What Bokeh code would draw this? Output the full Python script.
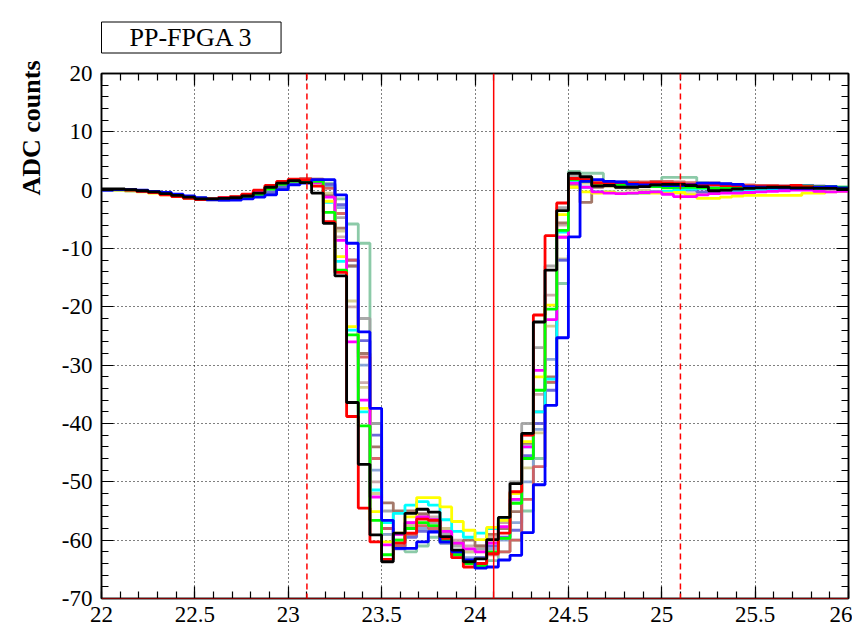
import numpy as np
from bokeh.plotting import figure
from bokeh.models import Span, Title, LinearAxis, FixedTicker, Range1d
from bokeh.embed import file_html
from bokeh.resources import INLINE

# ---------------- data ----------------
title_text = "PP-FPGA 3"
y_title = "ADC counts"
x_start = 22.0
bin_width = 0.0625
n_bins = 64

x_ticks = [22.0, 22.5, 23.0, 23.5, 24.0, 24.5, 25.0, 25.5, 26.0]
x_tick_labels = ["22", "22.5", "23", "23.5", "24", "24.5", "25", "25.5", "26"]
y_ticks = [-70, -60, -50, -40, -30, -20, -10, 0, 10, 20]
y_tick_labels = ["-70", "-60", "-50", "-40", "-30", "-20", "-10", "0", "10", "20"]

marker_lines = [23.1, 24.1, 25.1]
marker_styles = ["dashed", "solid", "dashed"]

black = [0.2, 0.2, 0.1, -0.1, -0.3, -0.6, -0.9, -1.2, -1.5, -1.5, -1.4, -1.3, -1.0, -0.5, 0.5, 1.2, 1.65, 1.3,
         -0.5, -5.7, -14.7, -36.4, -47.0, -59.1, -63.7, -58.8, -55.4, -54.7, -55.2, -59.4, -61.7, -63.7, -63.2, -59.9, -56.1, -50.3, -41.7, -22.6, -13.7, -3.5, 2.9, 2.3, 0.7,
         0.8, 0.5, 0.5, 0.6, 0.9, 1.0, 1.0, 0.8, 0.6, -0.1, 0.0, 0.2, 0.3, 0.4, 0.5, 0.5, 0.4, 0.4, 0.3, 0.3, 0.2]
red = [0.1, 0.1, 0.0, -0.2, -0.4, -0.8, -1.1, -1.4, -1.6, -1.5, -1.3, -1.1, -0.7, 0.0, 0.8, 1.5, 1.9, 1.8,
       0.7, -5.4, -14.1, -38.8, -54.5, -60.3, -63.3, -60.5, -58.8, -56.4, -56.6, -59.7, -63.0, -64.6, -64.0, -62.3, -58.8, -51.7, -42.0, -21.4, -7.8, -2.2, 2.0, 1.8, 1.2,
       1.2, 1.3, 1.2, 1.2, 1.3, 1.2, 1.1, 1.0, 0.9, 0.9, 0.8, 0.8, 0.7, 0.7, 0.7, 0.7, 0.8, 0.6, 0.5, 0.4, 0.3]
blue = [0.0, 0.1, 0.1, 0.0, -0.2, -0.4, -0.7, -1.0, -1.3, -1.6, -1.7, -1.7, -1.5, -1.2, -0.8, 0.1, 0.9, 1.2,
        1.8, 1.8, -0.8, -9.1, -24.3, -37.4, -56.6, -61.4, -61.4, -60.3, -58.6, -60.3, -62.0, -63.4, -64.8, -64.6, -63.4, -62.6, -58.7, -50.5, -36.9, -25.3, -8.0, 1.5, 1.8,
        1.5, 1.4, 1.0, 0.9, 0.9, 0.8, 0.8, 0.9, 1.2, 1.2, 1.1, 1.0, 0.6, 0.5, 0.4, 0.4, 0.3, 0.3, 0.5, 0.6, 0.4]
green = [0.1, 0.1, 0.0, -0.1, -0.3, -0.6, -0.9, -1.3, -1.4, -1.5, -1.4, -1.3, -1.1, -0.7, 0.2, 1.0, 1.5, 1.6,
         1.5, -3.8, -13.7, -24.8, -40.4, -56.6, -62.5, -60.0, -58.0, -57.0, -57.5, -60.0, -62.5, -64.0, -64.5, -62.0, -59.7, -53.7, -46.0, -34.3, -20.4, -6.9, 1.8, 1.5, 1.0,
         1.0, 0.8, 0.8, 0.6, 0.6, 0.4, 0.5, 0.5, 0.4, 0.3, 0.3, 0.4, 0.5, 0.5, 0.5, 0.6, 0.6, 0.7, 0.6, 0.6, 0.5]
yellow = [0.1, 0.0, -0.1, -0.3, -0.5, -0.8, -1.1, -1.3, -1.4, -1.4, -1.3, -1.2, -0.9, -0.3, 0.6, 1.0, 1.7, 1.6,
          1.4, -1.9, -11.4, -23.4, -37.4, -55.1, -60.3, -58.8, -56.0, -52.7, -52.7, -54.3, -56.8, -58.3, -59.9, -57.8, -56.6, -52.0, -43.1, -32.0, -19.7, -4.2, 0.5, -0.3, -0.5,
          -0.3, -0.5, -0.5, -0.5, -0.5, -0.5, -0.4, -0.8, -1.4, -1.4, -1.2, -1.0, -0.9, -0.9, -0.9, -0.9, -0.9, -0.5, -0.5, -0.3, -0.2]
magenta = [0.1, 0.1, 0.0, -0.2, -0.4, -0.7, -1.0, -1.2, -1.4, -1.4, -1.3, -1.2, -0.9, -0.4, 0.4, 1.0, 1.5, 1.5,
           1.3, -1.2, -8.6, -26.0, -36.0, -52.6, -60.8, -59.0, -57.0, -56.0, -56.5, -58.5, -60.5, -61.5, -62.0, -60.5, -57.7, -53.0, -44.0, -30.9, -22.2, -8.1, 1.2, 0.5, -0.3,
           -0.5, -0.6, -0.5, -0.4, -0.3, -0.7, -1.1, -1.1, -0.8, -0.6, -0.5, -0.5, -0.4, -0.3, -0.2, -0.1, 0.0, 0.0, -0.2, -0.3, -0.2]
cyan = [0.1, 0.1, 0.0, -0.2, -0.4, -0.7, -1.0, -1.2, -1.4, -1.4, -1.3, -1.2, -0.9, -0.4, 0.3, 1.0, 1.5, 1.5,
        1.5, -2.1, -12.2, -24.0, -38.0, -51.4, -57.0, -55.4, -54.0, -53.4, -54.0, -56.5, -58.5, -59.5, -58.8, -58.0, -56.5, -53.1, -44.0, -38.0, -32.4, -7.2, 1.5, 0.5, -0.3,
        -0.3, -0.5, -0.6, -0.5, -0.3, -0.2, 0.0, 0.2, 0.3, 0.2, 0.1, 0.0, -0.1, 0.0, 0.1, 0.2, 0.3, 0.3, 0.2, 0.2, 0.1]
gray = [0.1, 0.1, 0.0, -0.2, -0.4, -0.7, -1.0, -1.2, -1.4, -1.5, -1.4, -1.2, -1.0, -0.5, 0.3, 1.1, 1.6, 1.7,
        1.6, 0.5, -4.7, -12.0, -22.0, -40.0, -55.0, -60.0, -57.5, -56.0, -57.0, -59.0, -61.0, -62.0, -61.5, -60.0, -57.0, -50.0, -40.0, -27.0, -13.0, -3.0, 2.5, 2.2, 1.5,
        1.0, 1.2, 1.5, 1.2, 0.8, 0.6, 0.4, 0.5, 0.8, 1.0, 0.8, 0.5, 0.3, 0.3, 0.4, 0.5, 0.6, 0.7, 0.5, 0.4, 0.3]
lightgreen = [0.0, 0.0, -0.1, -0.2, -0.4, -0.6, -0.9, -1.1, -1.3, -1.5, -1.6, -1.6, -1.4, -1.1, -0.6, 0.3, 1.0, 1.5,
              1.9, 1.2, -1.5, -5.8, -9.1, -40.0, -57.0, -61.0, -62.0, -61.0, -59.5, -60.5, -62.0, -63.5, -64.0, -63.5, -62.0, -60.0, -55.0, -46.0, -33.0, -16.0, 3.2, 2.9, 2.9,
              1.5, 1.2, 1.0, 1.2, 1.5, 2.2, 2.2, 2.2, 1.3, 0.6, 0.4, 0.3, 0.3, 0.3, 0.4, 0.5, 0.5, 0.6, 0.6, 0.5, 0.4]
slateblue = [0.0, 0.1, 0.0, -0.1, -0.3, -0.6, -0.9, -1.2, -1.5, -1.7, -1.7, -1.6, -1.4, -1.0, -0.4, 0.5, 1.2, 1.5,
             1.7, 1.0, -2.5, -12.0, -25.8, -42.0, -58.0, -61.5, -59.5, -58.5, -58.5, -60.5, -62.5, -63.5, -63.0, -61.0, -59.5, -58.3, -45.5, -40.0, -34.3, -12.0, 1.5, 1.8, 1.0,
             1.2, 1.4, 1.2, 1.0, 0.8, 0.6, 0.3, 0.0, -0.3, -0.5, -0.4, -0.2, 0.0, 0.3, 0.5, 0.7, 0.8, 0.8, 0.7, 0.5, 0.4]
khaki = [0.1, 0.1, 0.0, -0.2, -0.4, -0.7, -1.0, -1.2, -1.4, -1.5, -1.4, -1.3, -1.0, -0.5, 0.3, 1.0, 1.5, 1.6,
         1.5, -0.5, -7.0, -19.0, -33.8, -52.0, -59.0, -60.0, -57.5, -56.0, -56.5, -58.0, -60.5, -62.0, -62.0, -60.0, -56.6, -53.5, -47.6, -41.6, -23.3, -11.8, 1.5, 1.2, 0.8,
         0.6, 0.4, 0.2, 0.0, -0.2, -0.4, -0.5, -0.6, -0.5, -0.4, -0.3, -0.2, -0.1, 0.0, 0.1, 0.2, 0.2, 0.3, 0.3, 0.2, 0.1]
indianred = [0.1, 0.1, 0.0, -0.2, -0.4, -0.7, -1.0, -1.3, -1.5, -1.5, -1.4, -1.2, -0.9, -0.3, 0.6, 1.3, 1.8, 2.0,
             1.9, 0.3, -4.0, -12.0, -28.6, -46.0, -58.0, -61.0, -59.0, -57.5, -58.0, -60.0, -62.5, -64.0, -64.0, -62.5, -62.0, -60.0, -53.0, -47.4, -32.9, -8.0, 1.8, 2.0, 1.5,
             1.3, 1.2, 1.3, 1.4, 1.5, 1.5, 1.4, 1.3, 1.1, 1.0, 1.0, 0.9, 0.9, 0.8, 0.8, 0.7, 0.6, 0.6, 0.5, 0.5, 0.4]
brown = [0.1, 0.1, 0.0, -0.2, -0.4, -0.7, -1.0, -1.3, -1.5, -1.6, -1.5, -1.3, -1.0, -0.5, 0.4, 1.2, 1.6, 1.5,
         1.2, -1.0, -6.5, -13.0, -28.0, -44.0, -53.6, -55.0, -55.0, -55.5, -56.5, -58.5, -60.5, -60.0, -61.0, -59.0, -58.0, -55.1, -43.4, -38.0, -32.0, -5.6, 1.0, -2.1, 0.5,
         0.8, 0.9, 0.8, 0.7, 0.7, 0.8, 0.9, 1.0, 1.1, 1.0, 0.9, 0.8, 0.6, 0.5, 0.4, 0.4, 0.5, 0.5, 0.4, 0.3, 0.3]
lightblue = [0.0, 0.0, -0.1, -0.2, -0.4, -0.7, -1.0, -1.3, -1.5, -1.6, -1.6, -1.5, -1.2, -0.8, 0.0, 0.8, 1.3, 1.5,
             1.6, 0.8, -3.0, -13.0, -30.0, -48.0, -59.0, -61.0, -59.0, -58.0, -58.5, -60.0, -62.0, -63.0, -63.0, -61.5, -60.0, -57.0, -50.0, -41.0, -29.0, -12.0, 0.5, 1.5, 1.0,
             1.0, 0.9, 0.8, 0.7, 0.6, 0.5, 0.5, 0.6, 0.7, 0.8, 0.8, 0.7, 0.6, 0.5, 0.5, 0.6, 0.7, 0.8, 0.7, 0.6, 0.5]
rosy = [0.1, 0.1, 0.0, -0.2, -0.4, -0.7, -1.0, -1.2, -1.4, -1.4, -1.3, -1.2, -0.9, -0.4, 0.4, 1.1, 1.6, 1.6,
        1.4, -0.8, -8.0, -20.0, -33.0, -50.0, -58.0, -59.0, -57.0, -55.5, -56.0, -58.0, -60.0, -61.0, -61.0, -59.5, -57.0, -52.0, -42.0, -35.0, -18.0, -6.0, 2.0, 1.5, 1.0,
        1.0, 1.0, 1.1, 1.2, 1.2, 1.1, 1.0, 1.0, 1.2, 1.3, 1.1, 0.9, 0.7, 0.6, 0.5, 0.5, 0.6, 0.6, 0.5, 0.4, 0.3]

# drawing order: pale first, strong last
series = [
    (lightgreen, "#7fc49f", 0.9),
    (gray, "#a0a0a0", 0.9),
    (rosy, "#c8a4a4", 0.9),
    (khaki, "#d0c98a", 0.9),
    (lightblue, "#7f9fd6", 0.9),
    (slateblue, "#5d5ad6", 0.9),
    (brown, "#9a6a5a", 0.9),
    (indianred, "#d45a5a", 0.9),
    (cyan, "#00ffff", 1.0),
    (yellow, "#ffff00", 1.0),
    (magenta, "#ff00ff", 1.0),
    (green, "#00ff00", 1.0),
    (red, "#ff0000", 1.0),
    (blue, "#0000ff", 1.0),
    (black, "#000000", 1.0),
]
for vals, _, _ in series:
    assert len(vals) == n_bins, len(vals)

edges = x_start + bin_width * np.arange(n_bins + 1)

# ---------------- figure ----------------
FONT = "'Liberation Serif', 'Times New Roman', serif"
p = figure(width=852, height=626, x_range=Range1d(22, 26), y_range=Range1d(-70, 20),
           output_backend="svg", toolbar_location=None, title=None,
           min_border_left=101, min_border_right=4, min_border_top=73, min_border_bottom=28)
p.background_fill_color = "white"
p.border_fill_color = "white"
p.outline_line_color = "black"
p.outline_line_width = 1.5

x_minor = [round(22 + 0.1 * k, 1) for k in range(41)]
y_minor = list(range(-70, 21, 2))
xt = FixedTicker(ticks=x_ticks, minor_ticks=x_minor)
yt = FixedTicker(ticks=y_ticks, minor_ticks=y_minor)

for ax in [p.xaxis[0], p.yaxis[0]]:
    ax.major_label_text_font = FONT
    ax.major_label_text_font_size = "23px"
    ax.major_label_text_color = "black"
    ax.axis_line_color = "black"
    ax.axis_line_width = 1.5
    ax.major_tick_in = 12
    ax.major_tick_out = 0
    ax.minor_tick_in = 7
    ax.minor_tick_out = 0
    ax.major_tick_line_color = "black"
    ax.minor_tick_line_color = "black"
    ax.major_tick_line_width = 1.2
    ax.minor_tick_line_width = 1.2
p.xaxis[0].ticker = xt
p.yaxis[0].ticker = yt
p.xaxis[0].major_label_overrides = {t: l for t, l in zip(x_ticks, x_tick_labels)}
p.yaxis[0].major_label_overrides = {t: l for t, l in zip(y_ticks, y_tick_labels)}
p.xaxis[0].major_label_standoff = 8
p.yaxis[0].major_label_standoff = 9

# tick-only axes on top and right
for loc, tk, tks in [("above", xt, x_ticks), ("right", yt, y_ticks)]:
    ax = LinearAxis(ticker=tk, major_label_text_font_size="1px", major_label_standoff=0,
                    major_label_overrides={t: "" for t in tks},
                    major_tick_in=12, major_tick_out=0, minor_tick_in=7, minor_tick_out=0,
                    axis_line_color="black", axis_line_width=1.5,
                    major_tick_line_width=1.2, minor_tick_line_width=1.2)
    p.add_layout(ax, loc)

p.xgrid.ticker = FixedTicker(ticks=x_ticks)
p.ygrid.ticker = FixedTicker(ticks=y_ticks)
for g in [p.xgrid[0], p.ygrid[0]]:
    g.grid_line_color = "black"
    g.grid_line_dash = "1 3"
    g.grid_line_width = 1

for vals, col, alpha in series:
    ys = list(vals) + [vals[-1]]
    p.step(edges, ys, mode="after", line_color=col, line_width=2.8, line_alpha=alpha)

for loc, sty in zip(marker_lines, marker_styles):
    p.add_layout(Span(location=loc, dimension="height", line_color="red", line_width=1.5,
                      line_dash="6 4" if sty == "dashed" else "solid"))
p.add_layout(Span(location=-70, dimension="width", line_color="red", line_width=1))

top_title = Title(text=title_text, align="left", vertical_align="top",
                  text_font=FONT, text_font_size="26px",
                  text_font_style="normal", text_color="black",
                  border_line_color="black", border_line_width=1,
                  background_fill_color="white", standoff=37,
                  padding=dict(left=28, right=28, top=1, bottom=1))
p.add_layout(top_title, "above")

left_title = Title(text=y_title, align="right", vertical_align="top",
                   text_font=FONT, text_font_size="26px",
                   text_font_style="bold", text_color="black", standoff=22, offset=-13)
p.add_layout(left_title, "left")

open("out.html", "w").write(file_html(p, INLINE))
